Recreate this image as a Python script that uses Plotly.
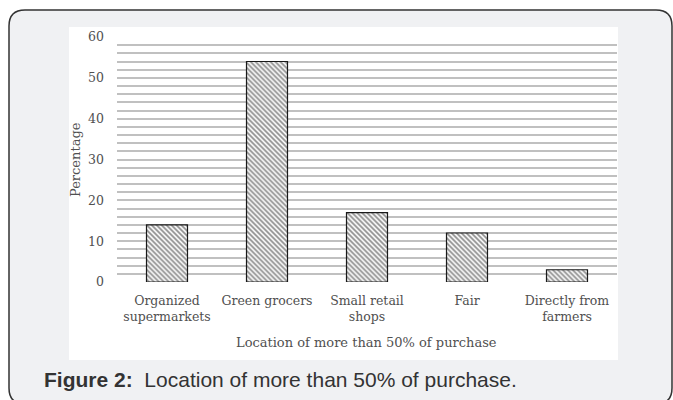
import plotly.graph_objects as go

categories = ["Organized<br>supermarkets", "Green grocers", "Small retail<br>shops", "Fair", "Directly from<br>farmers"]
percentages = [14, 54, 17, 12, 3]
y_ticks = [0, 10, 20, 30, 40, 50, 60]

W, H = 673, 400


def fx(px):
    return px / W


def fy(py):
    return 1 - py / H


def rounded_rect(x0, y0, x1, y1, r):
    rx, ry = r / W, r / H
    X0, X1 = fx(x0), fx(x1)
    Y0, Y1 = fy(y0), fy(y1)  # Y0 top, Y1 bottom (paper coords)
    return (f"M {X0+rx},{Y0} L {X1-rx},{Y0} Q {X1},{Y0} {X1},{Y0-ry} "
            f"L {X1},{Y1+ry} Q {X1},{Y1} {X1-rx},{Y1} "
            f"L {X0+rx},{Y1} Q {X0},{Y1} {X0},{Y1+ry} "
            f"L {X0},{Y0-ry} Q {X0},{Y0} {X0+rx},{Y0} Z")


serif = "DejaVu Serif"
gray = "#505050"
grid = "#c0c0c0"

fig = go.Figure()
fig.add_trace(go.Bar(
    x=categories,
    y=percentages,
    marker=dict(
        color="white",
        line=dict(color="#1a1a1a", width=1.2),
        pattern=dict(shape="\\", fgcolor="#1a1a1a", bgcolor="white", size=3.5, solidity=0.5),
    ),
    hoverinfo="skip",
))

fig.update_layout(
    width=W, height=H,
    margin=dict(l=0, r=0, t=0, b=0),
    paper_bgcolor="white",
    plot_bgcolor="rgba(0,0,0,0)",
    showlegend=False,
    bargap=0.59,
    xaxis=dict(
        domain=[fx(117), fx(617)],
        type="category",
        showgrid=False, showline=False, zeroline=False, ticks="",
        tickfont=dict(family=serif, size=12.5, color=gray),
        ticklabelstandoff=9,
        automargin=False,
    ),
    yaxis=dict(
        domain=[fy(282), fy(37)],
        range=[0, 60],
        tickvals=y_ticks,
        showgrid=True, gridcolor=grid, gridwidth=1.5,
        minor=dict(dtick=2, showgrid=True, gridcolor=grid, gridwidth=1.5),
        showline=False, zeroline=False, ticks="",
        tickfont=dict(family=serif, size=12.5, color=gray),
        ticklabelstandoff=12,
        automargin=False,
    ),
    shapes=[
        dict(type="path", xref="paper", yref="paper", layer="below",
             path=rounded_rect(9, 10, 672, 404, 16),
             fillcolor="#f0f1f3", line=dict(color="#333333", width=1.5)),
        dict(type="rect", xref="paper", yref="paper", layer="below",
             x0=fx(69), x1=fx(618), y0=fy(360), y1=fy(27),
             fillcolor="white", line=dict(width=0)),
    ],
    annotations=[
        dict(text="Percentage", textangle=-90, xref="paper", yref="paper",
             x=fx(75), y=fy(160), xanchor="center", yanchor="middle", showarrow=False,
             font=dict(family=serif, size=13, color=gray)),
        dict(text="Location of more than 50% of purchase", xref="paper", yref="paper",
             x=fx(367), y=fy(342), xanchor="center", yanchor="middle", showarrow=False,
             font=dict(family=serif, size=13, color=gray)),
        dict(text="<b>Figure 2:</b>&nbsp; Location of more than 50% of purchase.",
             xref="paper", yref="paper", x=fx(42), y=fy(379), xanchor="left", yanchor="middle",
             showarrow=False,
             font=dict(family="Liberation Sans", size=21, color="#333333")),
    ],
)

fig.write_html("out.html")
